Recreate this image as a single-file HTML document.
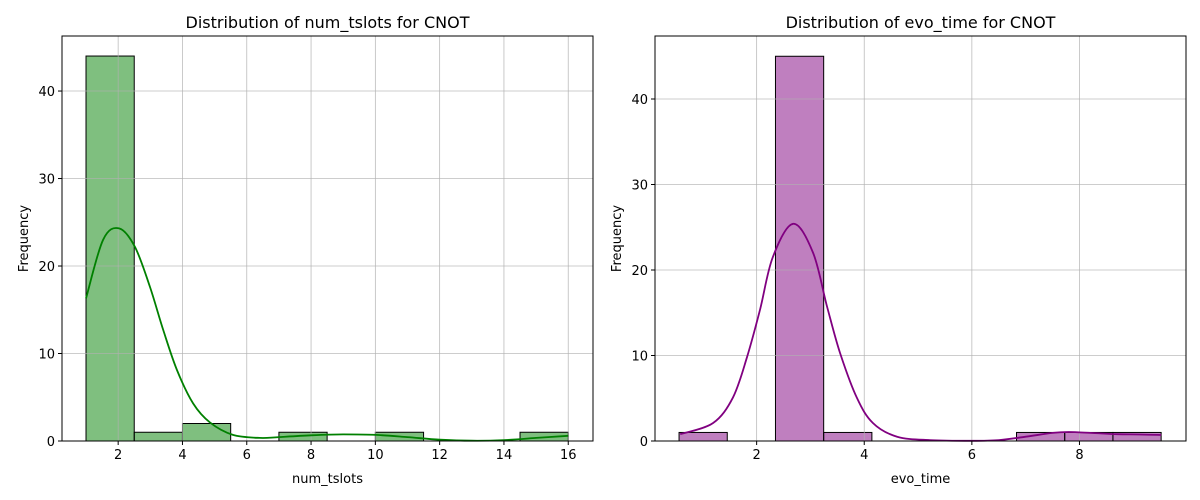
<!DOCTYPE html>
<html><head><meta charset="utf-8"><style>
body{margin:0;background:#fff;}
svg{display:block;font-family:"DejaVu Sans","Liberation Sans",sans-serif;}
</style></head><body>
<svg id="fig" width="1200" height="500" viewBox="0 0 1200 500"></svg>
<script>
// Left chart data
const leftCounts = [44, 1, 2, 0, 1, 0, 1, 0, 0, 1];
const leftBinStart = 1, leftBinWidth = 1.5;
const leftKdeX = [1, 1.53, 2.03, 2.52, 2.99, 3.4, 3.83, 4.33, 4.86, 5.57, 6.4, 7, 8, 9, 10, 11, 12, 13, 14, 15, 16];
const leftKdeY = [16.3, 23, 24.3, 22.2, 17.6, 12.7, 8.1, 4.3, 2.1, 0.7, 0.35, 0.45, 0.65, 0.75, 0.7, 0.45, 0.15, 0.03, 0.1, 0.35, 0.6];
const leftXTicks = [2, 4, 6, 8, 10, 12, 14, 16];
const leftYTicks = [0, 10, 20, 30, 40];
// Right chart data
const rightCounts = [1, 0, 45, 1, 0, 0, 0, 1, 1, 1];
const rightBinStart = 0.558, rightBinWidth = 0.896;
const rightKdeX = [0.58, 1.19, 1.56, 1.82, 2.06, 2.3, 2.68, 3.05, 3.31, 3.55, 3.86, 4.16, 4.61, 5.22, 6, 6.5, 7, 7.5, 7.8, 8.2, 8.7, 9.2, 9.52];
const rightKdeY = [0.8, 2.1, 5.1, 9.8, 15.3, 21.5, 25.4, 22, 15.7, 10.3, 5.1, 2.1, 0.5, 0.1, 0.02, 0.1, 0.5, 0.95, 1.05, 0.95, 0.8, 0.75, 0.7];
const rightXTicks = [2, 4, 6, 8];
const rightYTicks = [0, 10, 20, 30, 40];

const NS = "http://www.w3.org/2000/svg";
const svg = document.getElementById('fig');
function mk(tag, attrs, parent, text){
  const e = document.createElementNS(NS, tag);
  for (const k in attrs) e.setAttribute(k, attrs[k]);
  if (text !== undefined) e.textContent = text;
  (parent || svg).appendChild(e);
  return e;
}
function smoothPath(p){
  let d = 'M' + p[0][0].toFixed(1) + ',' + p[0][1].toFixed(1);
  for (let i = 0; i < p.length - 1; i++){
    const p0 = p[i-1] || p[i], p1 = p[i], p2 = p[i+1], p3 = p[i+2] || p2;
    const c1x = p1[0] + (p2[0]-p0[0])/6, c1y = p1[1] + (p2[1]-p0[1])/6;
    const c2x = p2[0] - (p3[0]-p1[0])/6, c2y = p2[1] - (p3[1]-p1[1])/6;
    d += ` C${c1x.toFixed(1)},${c1y.toFixed(1)} ${c2x.toFixed(1)},${c2y.toFixed(1)} ${p2[0].toFixed(1)},${p2[1].toFixed(1)}`;
  }
  return d;
}
function panel(o){
  const g = mk('g', {});
  
  
  const sx = v => o.x0 + (v - o.xmin) / (o.xmax - o.xmin) * (o.x1 - o.x0);
  const sy = v => o.y0 - (v - o.ymin) / (o.ymax - o.ymin) * (o.y0 - o.y1);
  o.counts.forEach((c, i) => {
    if (c <= 0) return;
    const a = o.binStart + i * o.binWidth, b = a + o.binWidth;
    const r = mk('rect', {x: sx(a), y: sy(c), width: sx(b) - sx(a), height: sy(0) - sy(c), fill: o.fill, 'fill-opacity': 0.5, stroke: '#000', 'stroke-width': 1}, g);
    
    
  });
  o.xTicks.forEach(t => {
    const l = mk('line', {x1: sx(t), x2: sx(t), y1: o.y1, y2: o.y0, stroke: '#b0b0b0', 'stroke-width': 0.8, 'stroke-opacity': 0.85}, g);
    
    
  });
  o.yTicks.forEach(t => {
    const l = mk('line', {x1: o.x0, x2: o.x1, y1: sy(t), y2: sy(t), stroke: '#b0b0b0', 'stroke-width': 0.8, 'stroke-opacity': 0.85}, g);
    
    
  });
  const pts = o.kx.map((x, i) => [sx(x), sy(o.ky[i])]);
  const pl = mk('path', {d: smoothPath(pts), fill: 'none', stroke: o.line, 'stroke-width': 1.8, 'stroke-linejoin': 'round'}, g);
  
  
  const fr = mk('rect', {x: o.x0, y: o.y1, width: o.x1 - o.x0, height: o.y0 - o.y1, fill: 'none', stroke: '#000', 'stroke-width': 1}, g);
  
  
  o.xTicks.forEach(t => {
    mk('line', {x1: sx(t), x2: sx(t), y1: o.y0, y2: o.y0 + 4, stroke: '#000'}, g);
    const tx = mk('text', {x: sx(t), y: o.y0 + 18, 'text-anchor': 'middle', 'font-size': 13}, g, t);
    
    
  });
  o.yTicks.forEach(t => {
    mk('line', {x1: o.x0 - 4, x2: o.x0, y1: sy(t), y2: sy(t), stroke: '#000'}, g);
    const tx = mk('text', {x: o.x0 - 7, y: sy(t) + 5, 'text-anchor': 'end', 'font-size': 13}, g, t);
    
    
  });
  const ti = mk('text', {x: (o.x0 + o.x1) / 2, y: 28, 'text-anchor': 'middle', 'font-size': 16}, g, o.title);
  
  
  const xl = mk('text', {x: (o.x0 + o.x1) / 2, y: 483, 'text-anchor': 'middle', 'font-size': 13}, g, o.xlabel);
  
  
  const yx = o.x0 - 34, yy = (o.y0 + o.y1) / 2;
  const yl = mk('text', {x: yx, y: yy, 'text-anchor': 'middle', 'font-size': 13, transform: `rotate(-90 ${yx} ${yy})`}, g, 'Frequency');
  
  
}
panel({name: 'num-tslots-histogram', x0: 62, x1: 593, y0: 441, y1: 36, xmin: 0.253, xmax: 16.77, ymin: 0, ymax: 46.29,
  counts: leftCounts, binStart: leftBinStart, binWidth: leftBinWidth, kx: leftKdeX, ky: leftKdeY,
  xTicks: leftXTicks, yTicks: leftYTicks, fill: '#008000', line: '#008000',
  title: 'Distribution of num_tslots for CNOT', xlabel: 'num_tslots'});
panel({name: 'evo-time-histogram', x0: 655, x1: 1186, y0: 441, y1: 36, xmin: 0.111, xmax: 9.98, ymin: 0, ymax: 47.37,
  counts: rightCounts, binStart: rightBinStart, binWidth: rightBinWidth, kx: rightKdeX, ky: rightKdeY,
  xTicks: rightXTicks, yTicks: rightYTicks, fill: '#800080', line: '#800080',
  title: 'Distribution of evo_time for CNOT', xlabel: 'evo_time'});
</script>
</body></html>
